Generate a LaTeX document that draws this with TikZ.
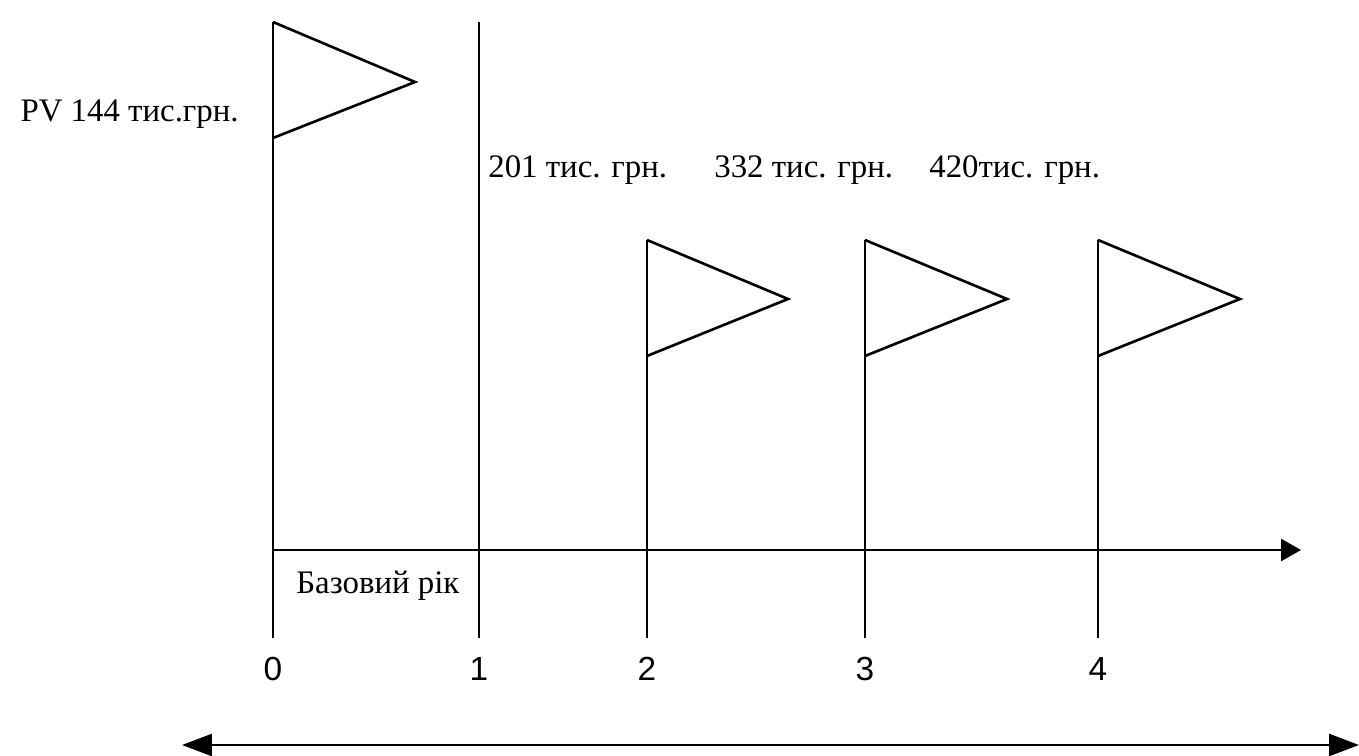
\documentclass[tikz,border=0pt]{standalone}
\usepackage{fontspec}
\setmainfont{Liberation Serif}
\newfontfamily\numfont{Liberation Sans}
\usetikzlibrary{arrows.meta, positioning}

\tikzset{
  sumlabel/.style={font=\fontsize{18.7}{22}\selectfont, inner sep=0pt},
  yearnum/.style={font=\numfont\fontsize{19}{22}\selectfont, inner sep=0pt},
  flag/.style={line join=miter},
}

\begin{document}
\begin{tikzpicture}[x=0.02cm, y=-0.02cm, >={Triangle[length=4mm, width=4.4mm]}, line width=1.5pt]
\useasboundingbox (0,0) rectangle (1359,756);

% Pole ends (years 0..4)
\coordinate (p0top) at (273,22);   \coordinate (p0bot) at (273,638);
\coordinate (p1top) at (479,22);   \coordinate (p1bot) at (479,638);
\coordinate (p2top) at (647,240);  \coordinate (p2bot) at (647,638);
\coordinate (p3top) at (865,240);  \coordinate (p3bot) at (865,638);
\coordinate (p4top) at (1098,240); \coordinate (p4bot) at (1098,638);

% Time axis
\coordinate (axstart) at (273,550);
\coordinate (axend) at (1301,550);
\draw[->] (axstart) -- (axend);

% Poles
\draw (p0top) -- (p0bot);
\draw (p1top) -- (p1bot);
\draw (p2top) -- (p2bot);
\draw (p3top) -- (p3bot);
\draw (p4top) -- (p4bot);

% Flags
\draw[flag] (p0top) -- ++(142,60) -- ++(-142,56);
\draw[flag] (p2top) -- ++(141,59) -- ++(-141,57);
\draw[flag] (p3top) -- ++(142,59) -- ++(-142,57);
\draw[flag] (p4top) -- ++(142,59) -- ++(-142,57);

% Sums
\node[sumlabel, anchor=base east] (pv) at (240,122) {PV 144 тис.грн.};
\node[sumlabel, anchor=base west] (sum1) at (487,178) {201 тис. грн.};
\node[sumlabel, anchor=base west] (sum2) at (713,178) {332 тис. грн.};
\node[sumlabel, anchor=base west] (sum3) at (928,178) {420тис. грн.};

% Base year
\node[sumlabel, anchor=base west] (base) at (295,593) {Базовий рік};

% Year numbers
\node[yearnum, below=3.6mm of p0bot] (y0) {0};
\node[yearnum, below=3.6mm of p1bot] (y1) {1};
\node[yearnum, below=3.6mm of p2bot] (y2) {2};
\node[yearnum, below=3.6mm of p3bot] (y3) {3};
\node[yearnum, below=3.6mm of p4bot] (y4) {4};

% Span arrow
\coordinate (spanl) at (182,745);
\coordinate (spanr) at (1359,745);
\draw[{Triangle[length=6mm, width=4.4mm]}-{Triangle[length=6mm, width=4.4mm]}] (spanl) -- (spanr);

\end{tikzpicture}
\end{document}
